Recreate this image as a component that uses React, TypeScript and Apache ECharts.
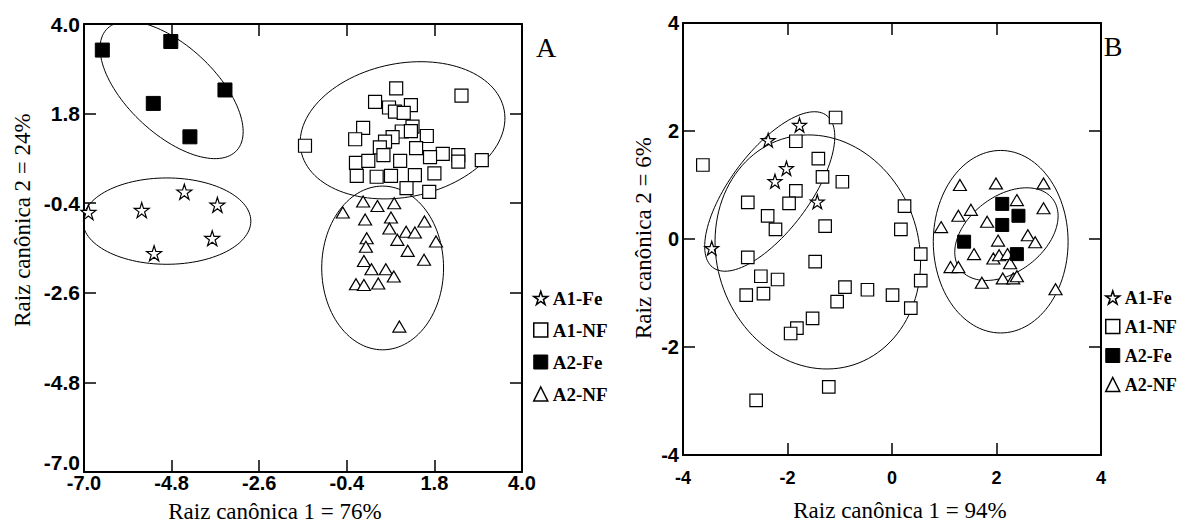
import React, { useEffect, useRef } from 'react';
import * as echarts from 'echarts';

const STAR = 'path://M50,2 L61.8,38.2 L99.9,38.2 L69.1,60.6 L80.9,96.8 L50,74.4 L19.1,96.8 L30.9,60.6 L0.1,38.2 L38.2,38.2 Z';

// ---------- Panel A ----------
const aA1Fe = [[-6.89, -0.62], [-5.55, -0.57], [-4.48, -0.12], [-3.65, -0.44], [-3.78, -1.26], [-5.24, -1.63]];
const aA1NF = [
  [0.84, 2.42], [2.48, 2.24], [0.31, 2.09], [0.66, 1.95], [1.21, 2.01], [0.81, 1.85], [1.03, 1.82], [0.01, 1.45],
  [-0.19, 1.17], [1.25, 1.48], [0.98, 1.36], [1.21, 1.37], [1.61, 1.25], [0.75, 1.22], [0.56, 1.11], [-1.45, 1.01],
  [0.43, 0.97], [0.52, 0.78], [1.34, 0.95], [2.01, 0.81], [2.4, 0.78], [2.4, 0.62], [1.69, 0.73], [-0.17, 0.59],
  [0.14, 0.64], [0.94, 0.64], [2.99, 0.66], [-0.15, 0.27], [0.35, 0.25], [0.71, 0.27], [1.31, 0.29], [1.8, 0.33],
  [1.1, -0.03], [1.67, -0.12],
];
const aA2Fe = [[-6.54, 3.36], [-4.82, 3.57], [-3.46, 2.38], [-5.26, 2.05], [-4.34, 1.23]];
const aA2NF = [
  [-0.5, -0.63], [0.01, -0.36], [0.37, -0.47], [0.79, -0.4], [0.06, -0.8], [0.71, -0.75], [0.67, -1.02], [1.55, -0.85],
  [1.09, -1.1], [1.31, -1.12], [1.84, -1.34], [0.87, -1.3], [0.1, -1.26], [0.08, -1.47], [1.13, -1.57], [1.54, -1.79],
  [0.03, -1.82], [0.22, -2.02], [0.58, -2.02], [0.78, -2.2], [-0.17, -2.39], [0.03, -2.41], [0.39, -2.37], [0.92, -3.43],
];
// ellipses: [centerX, centerY, semiAxisA, semiAxisB, angleDeg]
const ellA_A1Fe = [-4.92, -0.84, 2.11, 1.06, 0];
const ellA_A1NF = [1.0, 1.39, 2.6, 1.64, 11];
const ellA_A2Fe = [-4.8, 2.38, 2.21, 1.09, -42];
const ellA_A2NF = [0.5, -1.99, 1.53, 2.01, 0];

// ---------- Panel B ----------
const bA1Fe = [[-1.77, 2.11], [-2.37, 1.83], [-2.02, 1.31], [-2.24, 1.07], [-1.43, 0.69], [-3.45, -0.17]];
const bA1NF = [
  [-3.62, 1.37], [-1.08, 2.25], [-1.84, 1.81], [-1.41, 1.49], [-1.33, 1.15], [-0.95, 1.06], [-2.76, 0.68], [-1.84, 0.89],
  [-1.97, 0.66], [-2.38, 0.43], [-2.23, 0.18], [-1.28, 0.24], [0.24, 0.61], [0.17, 0.18], [-2.76, -0.34], [-1.47, -0.42],
  [0.55, -0.28], [0.55, -0.77], [-2.51, -0.69], [-2.19, -0.75], [-2.79, -1.04], [-2.46, -1.01], [-0.9, -0.89], [-1.05, -1.16],
  [-0.47, -0.94], [0.01, -1.04], [0.36, -1.28], [-1.52, -1.47], [-1.82, -1.65], [-1.94, -1.75], [-1.21, -2.74], [-2.6, -2.99],
];
const bA2Fe = [[2.11, 0.65], [2.42, 0.43], [2.11, 0.26], [1.38, -0.05], [2.39, -0.28]];
const bA2NF = [
  [1.3, 1.0], [1.99, 1.03], [2.9, 1.03], [2.39, 0.72], [1.51, 0.54], [1.27, 0.43], [2.9, 0.57], [1.82, 0.32],
  [0.94, 0.22], [2.6, 0.07], [2.74, -0.06], [2.03, -0.03], [1.57, -0.28], [1.94, -0.36], [2.05, -0.3], [2.21, -0.28],
  [2.26, -0.45], [1.12, -0.52], [1.27, -0.52], [1.72, -0.81], [2.12, -0.73], [2.32, -0.73], [2.39, -0.69], [3.13, -0.93],
];
const ellB_A1Fe = [-2.34, 0.88, 1.78, 0.75, 52];
const ellB_A1NF = [-1.42, -0.24, 2.2, 1.93, 111];
const ellB_A2Fe = [2.19, 0.09, 1.1, 0.71, 35];
const ellB_A2NF = [2.08, -0.05, 1.29, 1.69, 0];

const groupNames = ['A1-Fe', 'A1-NF', 'A2-Fe', 'A2-NF'];
const titleA_x = 'Raiz canônica 1 = 76%';
const titleA_y = 'Raiz canônica 2 = 24%';
const titleB_x = 'Raiz canônica 1 = 94%';
const titleB_y = 'Raiz canônica 2 = 6%';

function ellipsePoints(p: number[]) {
  const [cx, cy, a, b, deg] = p;
  const phi = (deg * Math.PI) / 180;
  const pts: number[][] = [];
  for (let i = 0; i <= 120; i++) {
    const t = (i / 120) * Math.PI * 2;
    const x = cx + a * Math.cos(t) * Math.cos(phi) - b * Math.sin(t) * Math.sin(phi);
    const y = cy + a * Math.cos(t) * Math.sin(phi) + b * Math.sin(t) * Math.cos(phi);
    pts.push([x, y]);
  }
  return pts;
}

const openStyle = { color: '#fff', borderColor: '#000', borderWidth: 1.2, opacity: 1 };
const filledStyle = { color: '#000', borderColor: '#000', borderWidth: 1, opacity: 1 };

function makeAxisPair(gridIndex: number, min: number, max: number, interval: number, isX: boolean, labelFmt: (v: number) => string, labelSize: number, margin: number, rich?: any) {
  const common = {
    gridIndex,
    type: 'value',
    min,
    max,
    interval,
    splitLine: { show: false },
    axisLine: { show: true, onZero: false, lineStyle: { color: '#000', width: 2 } },
    axisTick: { show: true, inside: true, length: 12, lineStyle: { color: '#000', width: 1.5 } },
  };
  return [
    {
      ...common,
      position: isX ? 'bottom' : 'left',
      axisLabel: {
        show: true,
        formatter: labelFmt,
        fontSize: labelSize,
        fontWeight: 'bold',
        fontFamily: 'Liberation Sans',
        color: '#000',
        margin,
        showMinLabel: true,
        showMaxLabel: true,
        rich,
      },
    },
    { ...common, position: isX ? 'top' : 'right', axisLabel: { show: false } },
  ];
}

function scatter(name: string, data: number[][], axis: number, symbol: string, size: any, style: any) {
  return {
    type: 'scatter',
    name,
    xAxisIndex: axis,
    yAxisIndex: axis,
    data,
    symbol,
    symbolSize: size,
    itemStyle: style,
    emphasis: { disabled: true },
    z: 3,
  };
}

function ellipseSeries(p: number[], axis: number) {
  return {
    type: 'line',
    name: 'ellipse',
    xAxisIndex: axis,
    yAxisIndex: axis,
    data: ellipsePoints(p),
    symbol: 'none',
    showSymbol: false,
    silent: true,
    lineStyle: { color: '#000', width: 1 },
    z: 2,
  };
}

function legendData() {
  const icons = [STAR, 'rect', 'rect', 'triangle'];
  return groupNames.map((n, i) => ({
    name: n,
    icon: icons[i],
    itemStyle: i === 2
      ? { color: '#000', borderColor: '#000', borderWidth: 1, opacity: 1 }
      : { color: '#fff', borderColor: '#000', borderWidth: 1.5, opacity: 1 },
  }));
}

function textEl(text: string, x: number, y: number, size: number, rotation = 0) {
  return {
    type: 'text',
    x,
    y,
    rotation,
    silent: true,
    style: {
      text,
      font: `${size}px "Liberation Serif"`,
      fill: '#000',
      align: 'center',
      verticalAlign: 'middle',
      textAlign: 'center',
      textVerticalAlign: 'middle',
    },
  };
}

export default function App() {
  const ref = useRef<HTMLDivElement>(null);
  useEffect(() => {
    if (!ref.current) return;
    const chart = echarts.init(ref.current, undefined, { renderer: 'svg' });
    const fmtAx = (v: number) => v.toFixed(1);
    const fmtAy = (v: number) => (Math.abs(v + 7) < 1e-6 ? '{lo|' + v.toFixed(1) + '}' : v.toFixed(1));
    const fmtB = (v: number) => String(Math.round(v));
    const richAy = {
      lo: { fontSize: 21, fontWeight: 'bold', fontFamily: 'Liberation Sans', color: '#000', padding: [0, 0, 20, 0] },
    };
    const xAxes = [
      ...makeAxisPair(0, -7, 4, 2.2, true, fmtAx, 20, 1),
      ...makeAxisPair(1, -4, 4, 2, true, fmtB, 18, 14),
    ];
    const yAxes = [
      ...makeAxisPair(0, -7, 4, 2.2, false, fmtAy, 21, 4, richAy),
      ...makeAxisPair(1, -4, 4, 2, false, fmtB, 20, 4),
    ];
    const option: any = {
      animation: false,
      backgroundColor: '#fff',
      grid: [
        { left: 84, top: 24, width: 438, height: 448, containLabel: false },
        { left: 683, top: 23, width: 418, height: 432, containLabel: false },
      ],
      xAxis: xAxes,
      yAxis: yAxes,
      legend: [
        {
          orient: 'vertical',
          left: 528,
          top: 283,
          itemWidth: 14,
          itemHeight: 14,
          itemGap: 12,
          selectedMode: false,
          inactiveColor: '#000',
          textStyle: { fontFamily: 'Liberation Serif', fontWeight: 'bold', fontSize: 19, color: '#000', lineHeight: 20 },
          data: legendData(),
        },
        {
          orient: 'vertical',
          left: 1100,
          top: 283,
          itemWidth: 14,
          itemHeight: 14,
          itemGap: 10,
          selectedMode: false,
          textStyle: { fontFamily: 'Liberation Serif', fontWeight: 'bold', fontSize: 18, color: '#000', lineHeight: 19 },
          data: legendData(),
        },
      ],
      series: [
        ellipseSeries(ellA_A1Fe, 0),
        ellipseSeries(ellA_A1NF, 0),
        ellipseSeries(ellA_A2Fe, 0),
        ellipseSeries(ellA_A2NF, 0),
        scatter('A1-Fe', aA1Fe, 0, STAR, 15, openStyle),
        scatter('A1-NF', aA1NF, 0, 'rect', 13, openStyle),
        scatter('A2-Fe', aA2Fe, 0, 'rect', 14, filledStyle),
        scatter('A2-NF', aA2NF, 0, 'triangle', [13, 11], openStyle),
        ellipseSeries(ellB_A1Fe, 2),
        ellipseSeries(ellB_A1NF, 2),
        ellipseSeries(ellB_A2Fe, 2),
        ellipseSeries(ellB_A2NF, 2),
        scatter('A1-Fe', bA1Fe, 2, STAR, 14, openStyle),
        scatter('A1-NF', bA1NF, 2, 'rect', 12.5, openStyle),
        scatter('A2-NF', bA2NF, 2, 'triangle', [13, 11], openStyle),
        scatter('A2-Fe', bA2Fe, 2, 'rect', 13, filledStyle),
      ],
      graphic: [
        textEl(titleA_x, 275, 511, 23),
        textEl(titleA_y, 22, 220, 23, Math.PI / 2),
        textEl(titleB_x, 900, 510, 23),
        textEl(titleB_y, 643, 238, 23, Math.PI / 2),
        textEl('A', 546, 47, 28),
        textEl('B', 1113, 46, 28),
      ],
    };
    chart.setOption(option);
    return () => chart.dispose();
  }, []);
  return <div ref={ref} style={{ position: 'absolute', left: 0, top: 0, width: 1188, height: 522, background: '#fff' }} />;
}
